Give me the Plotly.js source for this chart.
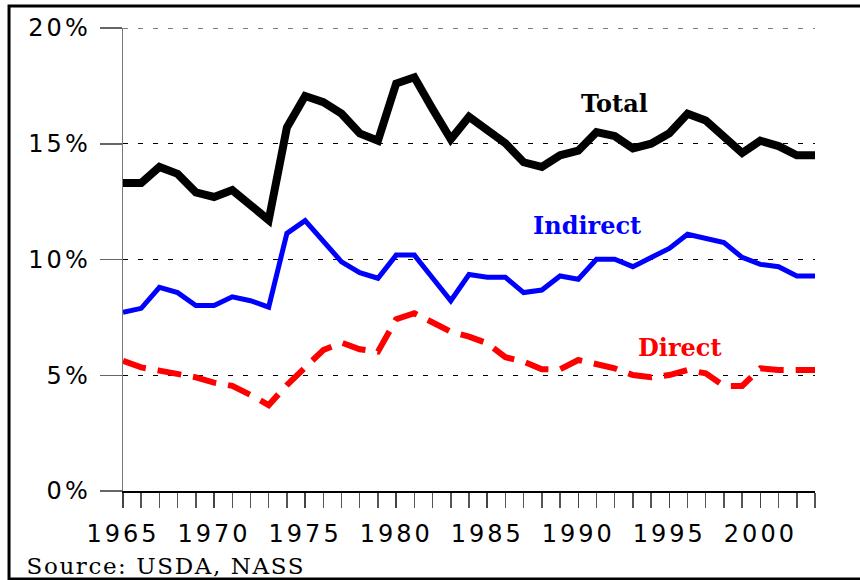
<!DOCTYPE html>
<html>
<head>
<meta charset="utf-8">
<script src="https://cdn.plot.ly/plotly-3.0.1.min.js"></script>
<style>
html,body{margin:0;padding:0;background:#fff;}
#chart{width:860px;height:580px;}
#chart .xtick text, #chart .ytick text{letter-spacing:3px;}
#chart .annotation-text-g text.src{letter-spacing:1.6px;}
</style>
</head>
<body>
<div id="chart"></div>
<script>
const years = [1965,1966,1967,1968,1969,1970,1971,1972,1973,1974,1975,1976,1977,1978,1979,1980,1981,1982,1983,1984,
  1985,1986,1987,1988,1989,1990,1991,1992,1993,1994,1995,1996,1997,1998,1999,2000,2001,2002,2003];
const total = [13.3,13.3,14.0,13.7,12.9,12.7,13.0,12.4,11.7,15.7,17.06,16.8,16.3,15.45,15.13,17.6,17.87,16.5,15.19,16.17,
  15.6,15.02,14.2,14.0,14.5,14.7,15.5,15.33,14.8,15.0,15.45,16.3,16.0,15.28,14.6,15.13,14.9,14.5,14.5];
const indirect = [7.72,7.89,8.8,8.57,8.01,8.01,8.39,8.22,7.94,11.13,11.68,10.77,9.9,9.43,9.19,10.19,10.19,9.2,8.22,9.35,
  9.23,9.23,8.57,8.68,9.29,9.15,10.01,10.01,9.69,10.09,10.48,11.09,10.92,10.73,10.09,9.79,9.69,9.29,9.29];
const direct = [5.62,5.34,5.2,5.08,4.91,4.68,4.54,4.15,3.71,4.58,5.34,6.09,6.41,6.12,6.02,7.42,7.68,7.31,6.88,6.67,
  6.38,5.78,5.59,5.26,5.26,5.66,5.49,5.3,5.01,4.91,5.01,5.23,5.08,4.54,4.54,5.3,5.23,5.23,5.23];
const yTickVals = [0,5,10,15,20];
const yTickText = ['0%','5%','10%','15%','20%'];
const yMax = 20;
const seriesLabels = ['Total','Indirect','Direct'];
const sourceText = 'Source: USDA, NASS';

const traces = [
  {x: years, y: direct, type:'scatter', mode:'lines', name:'Direct',
   line:{color:'#ff0000', width:6, dash:'24px,12px'}},
  {x: years, y: indirect, type:'scatter', mode:'lines', name:'Indirect',
   line:{color:'#0000ff', width:5}},
  {x: years, y: total, type:'scatter', mode:'lines', name:'Total',
   line:{color:'#000000', width:8}}
];

const serif = 'DejaVu Serif, Liberation Serif, serif';
const sans = 'DejaVu Sans, Liberation Sans, Arial, sans-serif';

const layout = {
  width:860, height:580,
  margin:{l:123, r:45, t:28, b:89, pad:0},
  paper_bgcolor:'#ffffff', plot_bgcolor:'#ffffff',
  showlegend:false,
  xaxis:{
    range:[1965,2003], tickmode:'linear', tick0:1965, dtick:5,
    ticks:'outside', ticklen:15, tickwidth:1.5, tickcolor:'#444',
    minor:{dtick:1, tick0:1965, ticks:'outside', ticklen:15, tickwidth:1.5, tickcolor:'#555', showgrid:false},
    showgrid:false, zeroline:false, showline:true, linecolor:'#000', linewidth:1.5,
    tickfont:{family:sans, size:24, color:'#000'},
    ticklabelstandoff:6
  },
  yaxis:{
    range:[0,yMax], tickmode:'array', tickvals:yTickVals, ticktext:yTickText,
    ticks:'outside', ticklen:22, tickwidth:1.5, tickcolor:'#666',
    showgrid:true, gridcolor:'#000', gridwidth:1, griddash:'5px,10px',
    zeroline:false, showline:true, linecolor:'#777', linewidth:1.5,
    tickfont:{family:sans, size:24, color:'#000'},
    ticklabelstandoff:4
  },
  annotations:[
    {x:1992.0, y:16.72, xref:'x', yref:'y', text:'<b>'+seriesLabels[0]+'</b>', showarrow:false,
     font:{family:serif, size:24, color:'#000000'}},
    {x:1990.5, y:11.49, xref:'x', yref:'y', text:'<b>'+seriesLabels[1]+'</b>', showarrow:false,
     font:{family:serif, size:24, color:'#0000ff'}},
    {x:1995.6, y:6.22, xref:'x', yref:'y', text:'<b>'+seriesLabels[2]+'</b>', showarrow:false,
     font:{family:serif, size:24, color:'#ff0000'}},
    {x:-0.121, y:-0.195, xref:'paper', yref:'paper', xanchor:'left', yanchor:'bottom', text:sourceText, showarrow:false,
     font:{family:serif, size:23, color:'#000'}}
  ],
  shapes:[
    {type:'line', xref:'paper', yref:'y', x0:0, x1:1, y0:yMax, y1:yMax,
     line:{color:'#000', width:1, dash:'5px,10px'}, layer:'below'},
    {type:'rect', xref:'paper', yref:'paper', x0:-0.1647, x1:1.07, y0:-0.19, y1:1.0475,
     line:{color:'#000', width:3}, fillcolor:'rgba(0,0,0,0)', layer:'above'}
  ]
};

Plotly.newPlot('chart', traces, layout, {displayModeBar:false, staticPlot:true}).then(function(gd){
  const anns = gd.querySelectorAll('.annotation-text-g text');
  anns.forEach(function(t){ if (t.textContent === sourceText) t.classList.add('src'); });
});
</script>
</body>
</html>
